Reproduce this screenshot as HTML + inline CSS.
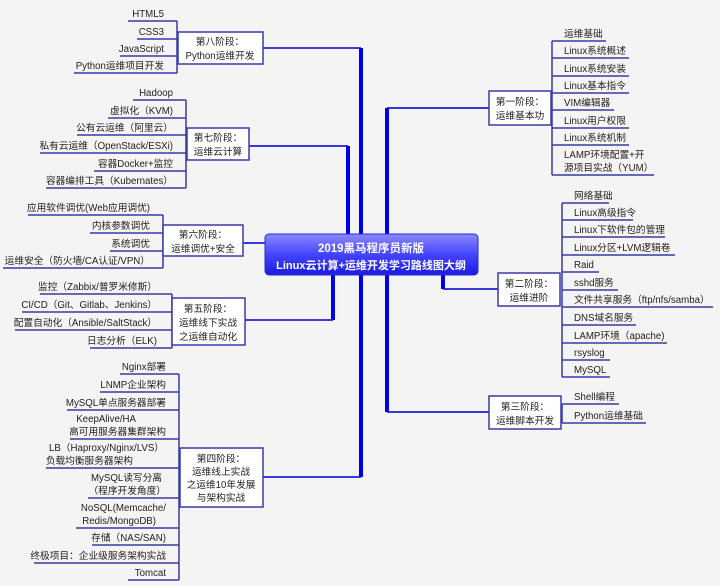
<!DOCTYPE html>
<html><head><meta charset="utf-8"><style>
html,body{margin:0;padding:0;background:#f4f4f4;}
svg{display:block;}
text{font-family:"Liberation Sans","Noto Sans CJK SC",sans-serif;font-size:9.7px;fill:#222;}
.b{fill:#fff;stroke:#3a3aa8;stroke-width:1.5;}
.u{stroke:#3a3aa8;stroke-width:1.5;fill:none;}
.t{stroke:#0000e6;stroke-width:4;fill:none;}
.h{stroke:#2020d8;stroke-width:1.8;fill:none;}
</style></head><body>
<svg width="720" height="586" viewBox="0 0 720 586" xmlns="http://www.w3.org/2000/svg">
<defs><linearGradient id="g" x1="0" y1="0" x2="0" y2="1"><stop offset="0" stop-color="#8a8aff"/><stop offset="0.5" stop-color="#4444ff"/><stop offset="1" stop-color="#1a1ae0"/></linearGradient></defs>
<path class="h" d="M263 48 H361"/><path class="t" d="M361 48 V236"/>
<path class="h" d="M249 146 H348"/><path class="t" d="M348 146 V236"/>
<path class="h" d="M489 108 H387"/><path class="t" d="M387 108 V412"/><path class="h" d="M387 412 H489"/>
<path class="h" d="M243 243 H266"/>
<path class="t" d="M333 273 V320"/><path class="h" d="M333 320 H245"/>
<path class="t" d="M361 273 V477"/><path class="h" d="M361 477 H263"/>
<path class="t" d="M443 273 V289"/><path class="h" d="M443 289 H498"/>
<rect x="265" y="234" width="213" height="41" rx="4" fill="url(#g)" stroke="#2a2ad0"/>
<text x="371" y="252" text-anchor="middle" style="fill:#fff;font-weight:bold;font-size:11.5px">2019黑马程序员新版</text>
<text x="371" y="269" text-anchor="middle" style="fill:#fff;font-weight:bold;font-size:11px">Linux云计算+运维开发学习路线图大纲</text>

<path class="u" d="M177 21 V73 M128 21 H177 M137 39 H177 M120 56 H177 M74 73 H177"/>
<rect class="b" x="178" y="32" width="85" height="32"/>
<text x="220" y="45" text-anchor="middle">第八阶段：</text><text x="220" y="59" text-anchor="middle">Python运维开发</text>
<g text-anchor="end"><text x="164" y="17">HTML5</text><text x="164" y="35">CSS3</text><text x="164" y="52">JavaScript</text><text x="164" y="69">Python运维项目开发</text></g>

<path class="u" d="M186 100 V188 M133 100 H186 M108 118 H186 M77 135 H186 M40 153 H186 M94 171 H186 M46 188 H186"/>
<rect class="b" x="187" y="128" width="62" height="32"/>
<text x="218" y="141" text-anchor="middle">第七阶段：</text><text x="218" y="155" text-anchor="middle">运维云计算</text>
<g text-anchor="end"><text x="173" y="96">Hadoop</text><text x="173" y="114">虚拟化（KVM)</text><text x="173" y="131">公有云运维（阿里云）</text><text x="173" y="149">私有云运维（OpenStack/ESXi)</text><text x="173" y="167">容器Docker+监控</text><text x="173" y="184">容器编排工具（Kubernates）</text></g>

<path class="u" d="M163 215 V268 M28 215 H163 M90 233 H163 M110 251 H163 M3 268 H163"/>
<rect class="b" x="163" y="225" width="80" height="31"/>
<text x="203" y="238" text-anchor="middle">第六阶段：</text><text x="203" y="252" text-anchor="middle">运维调优+安全</text>
<g text-anchor="end"><text x="150" y="211">应用软件调优(Web应用调优)</text><text x="150" y="229">内核参数调优</text><text x="150" y="247">系统调优</text><text x="150" y="264">运维安全（防火墙/CA认证/VPN）</text></g>

<path class="u" d="M172 294 V348 M40 294 H172 M22 312 H172 M15 330 H172 M90 348 H172"/>
<rect class="b" x="172" y="298" width="73" height="47"/>
<text x="208" y="312" text-anchor="middle">第五阶段：</text><text x="208" y="326" text-anchor="middle">运维线下实战</text><text x="208" y="340" text-anchor="middle">之运维自动化</text>
<g text-anchor="end"><text x="157" y="290">监控（Zabbix/普罗米修斯）</text><text x="157" y="308">CI/CD（Git、Gitlab、Jenkins）</text><text x="157" y="326">配置自动化（Ansible/SaltStack）</text><text x="157" y="344">日志分析（ELK)</text></g>

<path class="u" d="M179 374 V580 M120 374 H179 M100 392 H179 M67 410 H179 M70 439 H179 M46 468 H179 M88 498 H179 M76 528 H179 M92 545 H179 M34 563 H179 M128 580 H179"/>
<rect class="b" x="180" y="448" width="83" height="59"/>
<text x="221" y="462" text-anchor="middle">第四阶段：</text><text x="221" y="475" text-anchor="middle">运维线上实战</text><text x="221" y="488" text-anchor="middle">之运维10年发展</text><text x="221" y="501" text-anchor="middle">与架构实战</text>
<g text-anchor="end"><text x="166" y="370">Nginx部署</text><text x="166" y="388">LNMP企业架构</text><text x="166" y="406">MySQL单点服务器部署</text>
<text x="136" y="422">KeepAlive/HA</text><text x="166" y="435">高可用服务器集群架构</text>
<text x="164" y="451">LB（Haproxy/Nginx/LVS）</text><text x="133" y="464">负载均衡服务器架构</text>
<text x="162" y="481">MySQL读写分离</text><text x="166" y="494">（程序开发角度）</text>
<text x="166" y="511">NoSQL(Memcache/</text><text x="156" y="524">Redis/MongoDB)</text>
<text x="166" y="541">存储（NAS/SAN)</text><text x="166" y="559">终极项目：企业级服务架构实战</text><text x="166" y="576">Tomcat</text></g>

<path class="u" d="M552 41 V175 M552 41 H606 M552 58 H629 M552 76 H629 M552 93 H629 M552 110 H614 M552 128 H629 M552 145 H629 M552 175 H654"/>
<rect class="b" x="489" y="91" width="62" height="34"/>
<text x="520" y="105" text-anchor="middle">第一阶段：</text><text x="520" y="119" text-anchor="middle">运维基本功</text>
<text x="564" y="37">运维基础</text><text x="564" y="54">Linux系统概述</text><text x="564" y="72">Linux系统安装</text><text x="564" y="89">Linux基本指令</text><text x="564" y="106">VIM编辑器</text><text x="564" y="124">Linux用户权限</text><text x="564" y="141">Linux系统机制</text><text x="564" y="158">LAMP环境配置+开</text><text x="564" y="171">源项目实战（YUM）</text>

<path class="u" d="M562 203 V377 M562 203 H609 M562 220 H633 M562 237 H665 M562 255 H675 M562 272 H599 M562 290 H618 M562 307 H713 M562 325 H636 M562 343 H667 M562 360 H610 M562 377 H610"/>
<rect class="b" x="498" y="273" width="62" height="33"/>
<text x="529" y="287" text-anchor="middle">第二阶段：</text><text x="529" y="301" text-anchor="middle">运维进阶</text>
<text x="574" y="199">网络基础</text><text x="574" y="216">Linux高级指令</text><text x="574" y="233">Linux下软件包的管理</text><text x="574" y="251">Linux分区+LVM逻辑卷</text><text x="574" y="268">Raid</text><text x="574" y="286">sshd服务</text><text x="574" y="303">文件共享服务（ftp/nfs/samba）</text><text x="574" y="321">DNS域名服务</text><text x="574" y="339">LAMP环境（apache)</text><text x="574" y="356">rsyslog</text><text x="574" y="373">MySQL</text>

<path class="u" d="M562 404 V423 M562 404 H619 M562 423 H646"/>
<rect class="b" x="489" y="396" width="72" height="33"/>
<text x="525" y="410" text-anchor="middle">第三阶段：</text><text x="525" y="424" text-anchor="middle">运维脚本开发</text>
<text x="574" y="400">Shell编程</text><text x="574" y="419">Python运维基础</text>
</svg>
</body></html>
